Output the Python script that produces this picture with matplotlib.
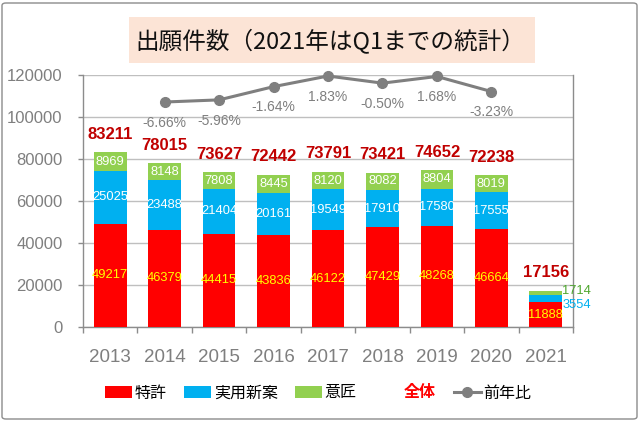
import matplotlib
matplotlib.use("Agg")
import matplotlib.pyplot as plt
from matplotlib.patches import Patch, Rectangle, FancyBboxPatch
from matplotlib.lines import Line2D
import numpy as np

plt.rcParams['font.family'] = ['Liberation Sans', 'Noto Sans CJK JP', 'DejaVu Sans']

years = ["2013", "2014", "2015", "2016", "2017", "2018", "2019", "2020", "2021"]
patent = [49217, 46379, 44415, 43836, 46122, 47429, 48268, 46664, 11888]
utility = [25025, 23488, 21404, 20161, 19549, 17910, 17580, 17555, 3554]
design = [8969, 8148, 7808, 8445, 8120, 8082, 8804, 8019, 1714]
total = [83211, 78015, 73627, 72442, 73791, 73421, 74652, 72238, 17156]
yoy = [None, -6.66, -5.96, -1.64, 1.83, -0.50, 1.68, -3.23, None]
yoy_labels = ["", "-6.66%", "-5.96%", "-1.64%", "1.83%", "-0.50%", "1.68%", "-3.23%", ""]

title = "出願件数（2021年はQ1までの統計）"
legend_labels = ["特許", "実用新案", "意匠", "全体", "前年比"]

RED = "#FF0000"
BLUE = "#00B0F0"
GREEN = "#92D050"
GRAY = "#7F7F7F"
DARKRED = "#C00000"

W, H = 640, 421
fig = plt.figure(figsize=(W / 100, H / 100), dpi=100)

# chart border
fig.patches.append(FancyBboxPatch((2 / W, 2 / H), 1 - 5 / W, 1 - 5 / H,
                                  boxstyle="round,pad=0,rounding_size=0.006",
                                  transform=fig.transFigure, facecolor="none",
                                  edgecolor="#8C8C8C", linewidth=1.0))

# title box
fig.patches.append(Rectangle((129 / W, (H - 63) / H), 406 / W, 46 / H,
                             transform=fig.transFigure, facecolor="#FCE4D6",
                             edgecolor="none", zorder=0))
fig.text(135 / W, (H - 42) / H, title, ha="left", va="center", fontsize=17,
         family=['Noto Sans CJK JP', 'DejaVu Sans'], color="#111111")

ax = fig.add_axes([83 / W, (H - 327) / H, 490 / W, 252 / H])
x = np.arange(len(years))
bw = 0.6

ax.bar(x, patent, bw, color=RED, zorder=3)
bottom2 = np.array(patent)
ax.bar(x, utility, bw, bottom=bottom2, color=BLUE, zorder=3)
bottom3 = bottom2 + np.array(utility)
ax.bar(x, design, bw, bottom=bottom3, color=GREEN, zorder=3)

ax.set_xlim(-0.5, len(years) - 0.5)
ax.set_ylim(0, 120000)
ax.set_yticks(np.arange(0, 120001, 20000))
ax.set_xticks(x)
ax.set_xticklabels(years)
ax.set_xticks(np.arange(-0.5, len(years), 1.0), minor=True)
ax.tick_params(axis="x", which="major", length=0, pad=16, labelsize=13.5, labelcolor=GRAY)
ax.tick_params(axis="x", which="minor", length=4.5, width=1, color="#8C8C8C")
ax.tick_params(axis="y", length=3.6, width=1, color="#8C8C8C", pad=11, labelsize=12, labelcolor=GRAY)
ax.grid(axis="y", color="#BFBFBF", linewidth=1, zorder=0)
ax.set_axisbelow(True)
for s in ["left", "bottom", "right"]:
    ax.spines[s].set_color("#8C8C8C")
    ax.spines[s].set_linewidth(1)
ax.spines["top"].set_visible(False)

# segment labels
for i in range(len(years)):
    ax.text(x[i], patent[i] / 2, str(patent[i]), ha="center", va="center",
            color="#FFFF00", fontsize=9.3, zorder=5)
    if i < len(years) - 1:
        ax.text(x[i], bottom2[i] + utility[i] / 2, str(utility[i]), ha="center", va="center",
                color="white", fontsize=9.3, zorder=5)
        ax.text(x[i], bottom3[i] + design[i] / 2, str(design[i]), ha="center", va="center",
                color="white", fontsize=9.3, zorder=5)
    else:
        ax.annotate(str(design[i]), (x[i] + bw / 2, bottom3[i] + design[i] / 2),
                    xytext=(0, 1.5), textcoords="offset points", ha="left", va="center",
                    color="#4EA72E", fontsize=9.3, zorder=5)
        ax.annotate(str(utility[i]), (x[i] + bw / 2, bottom2[i] + utility[i] / 2),
                    xytext=(0, -4.5), textcoords="offset points", ha="left", va="center",
                    color=BLUE, fontsize=9.3, zorder=5)
    ax.annotate(str(total[i]), (x[i], total[i]), xytext=(0, 13), textcoords="offset points",
                ha="center", va="center", color=DARKRED, fontsize=12, fontweight="bold",
                zorder=5, annotation_clip=False)

# year-over-year line on secondary axis
ax2 = ax.twinx()
ax2.set_ylim(-80.1, 2.16)
ax2.set_yticks([])
for s in ["left", "bottom", "right", "top"]:
    ax2.spines[s].set_visible(False)
xi = [i for i in range(len(years)) if yoy[i] is not None]
yv = [yoy[i] for i in xi]
ax2.plot(xi, yv, color=GRAY, linewidth=2.2, marker="o", markersize=7, clip_on=False, zorder=4)
for i in xi:
    ax2.annotate(yoy_labels[i], (i, yoy[i]), xytext=(0, -15), textcoords="offset points",
                 ha="center", va="center", color=GRAY, fontsize=10, annotation_clip=False)

handles = [Patch(facecolor=RED), Patch(facecolor=BLUE), Patch(facecolor=GREEN),
           Patch(facecolor="none", edgecolor="none"),
           Line2D([0], [0], color=GRAY, linewidth=2.2, marker="o", markersize=7)]
leg = fig.legend(handles, legend_labels, loc="center", bbox_to_anchor=(0.497, (H - 393) / H),
                 ncol=5, frameon=False, handlelength=1.7, handletextpad=0.15,
                 columnspacing=1.1, prop={"family": ['Noto Sans CJK JP', 'DejaVu Sans'], "size": 11.5})
for t in leg.get_texts():
    t.set_color("black")
leg.get_texts()[3].set_color(RED)
leg.get_texts()[3].set_fontweight("bold")

fig.savefig("out.png", dpi=100)
